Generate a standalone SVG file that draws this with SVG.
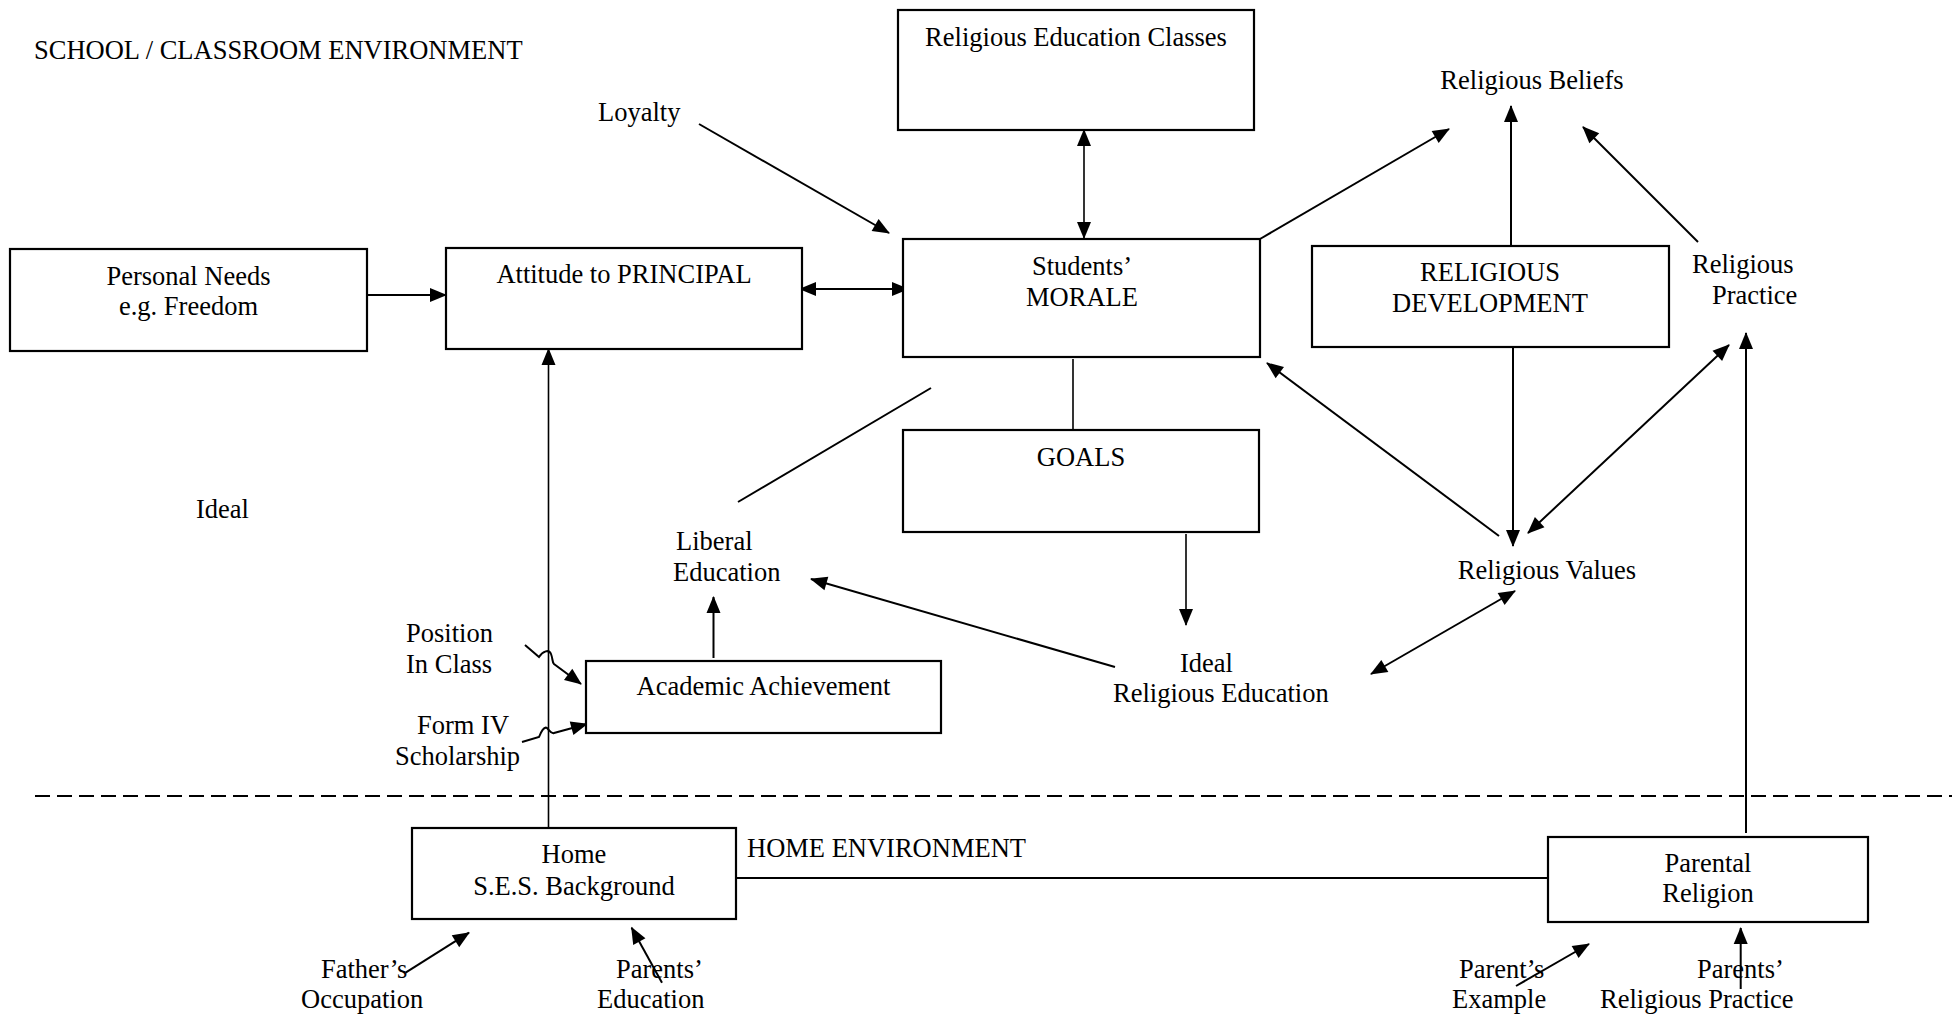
<svg xmlns="http://www.w3.org/2000/svg" width="1952" height="1017" viewBox="0 0 1952 1017">
  <style>
    text { font-family: "Liberation Serif", "Times New Roman", serif; font-size: 26.5px; fill: #000; }
    .mid { text-anchor: middle; }
    .box { fill: #fff; stroke: #000; stroke-width: 2.2; }
    .ln { fill: none; stroke: #000; stroke-width: 2; }
    .thin { fill: none; stroke: #000; stroke-width: 1.6; }
    .dash { fill: none; stroke: #000; stroke-width: 2; stroke-dasharray: 15 7; }
  </style>
  <defs>
    <marker id="arrow" markerUnits="userSpaceOnUse" markerWidth="18" markerHeight="16" viewBox="0 -8 17 16" refX="16" refY="0" orient="auto-start-reverse">
      <path d="M0,-7 L17,0 L0,7 z" fill="#000"/>
    </marker>
  </defs>

  <rect width="1952" height="1017" fill="#fff"/>

  <!-- free labels -->
  <g id="labels">
    <text x="34" y="59">SCHOOL / CLASSROOM ENVIRONMENT</text>
    <text x="598" y="121">Loyalty</text>
    <text class="mid" x="1532" y="89">Religious Beliefs</text>
    <text x="1692" y="273">Religious</text>
    <text x="1712" y="304">Practice</text>
    <text x="196" y="518">Ideal</text>
    <text x="676" y="550">Liberal</text>
    <text x="673" y="581">Education</text>
    <text class="mid" x="1547" y="579">Religious Values</text>
    <text x="1180" y="672">Ideal</text>
    <text x="1113" y="702">Religious Education</text>
    <text x="406" y="642">Position</text>
    <text x="406" y="673">In Class</text>
    <text x="417" y="734">Form IV</text>
    <text x="395" y="765">Scholarship</text>
    <text x="747" y="857">HOME ENVIRONMENT</text>
    <text x="321" y="978">Father’s</text>
    <text x="301" y="1008">Occupation</text>
    <text x="616" y="978">Parents’</text>
    <text x="597" y="1008">Education</text>
    <text x="1459" y="978">Parent’s</text>
    <text x="1452" y="1008">Example</text>
    <text x="1697" y="978">Parents’</text>
    <text x="1600" y="1008">Religious Practice</text>
  </g>

  <!-- connectors -->
  <g id="connectors">
    <line class="dash" x1="35" y1="796" x2="1952" y2="796"/>
    <line class="ln" x1="367" y1="295" x2="446" y2="295" marker-end="url(#arrow)"/>
    <line class="ln" x1="800" y1="289" x2="908" y2="289" marker-start="url(#arrow)" marker-end="url(#arrow)"/>
    <line class="ln" x1="699" y1="124" x2="889" y2="233" marker-end="url(#arrow)"/>
    <line class="thin" x1="1084" y1="130" x2="1084" y2="238" marker-start="url(#arrow)" marker-end="url(#arrow)"/>
    <line class="ln" x1="1260" y1="239" x2="1449" y2="129" marker-end="url(#arrow)"/>
    <line class="ln" x1="1511" y1="245" x2="1511" y2="106" marker-end="url(#arrow)"/>
    <line class="ln" x1="1698" y1="242" x2="1583" y2="127" marker-end="url(#arrow)"/>
    <line class="thin" x1="1073" y1="359" x2="1073" y2="430"/>
    <line class="ln" x1="931" y1="388" x2="738" y2="502"/>
    <line class="thin" x1="1186" y1="534" x2="1186" y2="625" marker-end="url(#arrow)"/>
    <line class="ln" x1="1115" y1="667" x2="811" y2="579" marker-end="url(#arrow)"/>
    <line class="ln" x1="713.5" y1="658" x2="713.5" y2="597" marker-end="url(#arrow)"/>
    <line class="ln" x1="1499" y1="536" x2="1267" y2="363" marker-end="url(#arrow)"/>
    <line class="ln" x1="1513" y1="343" x2="1513" y2="546" marker-end="url(#arrow)"/>
    <line class="ln" x1="1528" y1="533" x2="1729" y2="345" marker-start="url(#arrow)" marker-end="url(#arrow)"/>
    <line class="ln" x1="1515" y1="591" x2="1371" y2="674" marker-start="url(#arrow)" marker-end="url(#arrow)"/>
    <line class="ln" x1="1746" y1="833" x2="1746" y2="333" marker-end="url(#arrow)"/>
    <line class="thin" x1="548.5" y1="828" x2="548.5" y2="349" marker-end="url(#arrow)"/>
    <line class="ln" x1="736" y1="878" x2="1548" y2="878"/>
    <path class="ln" d="M525,645 L539,657 C543,651 549,649 551,654 C553,659 552,662 554,664 L581,684" marker-end="url(#arrow)"/>
    <path class="ln" d="M522,742 L539,737 C541,732 544,726 547,728 C550,731 551,734 554,733 L587,724" marker-end="url(#arrow)"/>
    <line class="ln" x1="405.6" y1="972.7" x2="469" y2="932.7" marker-end="url(#arrow)"/>
    <line class="ln" x1="662" y1="982.7" x2="631.6" y2="927.7" marker-end="url(#arrow)"/>
    <line class="ln" x1="1516" y1="986" x2="1589" y2="944" marker-end="url(#arrow)"/>
    <line class="ln" x1="1740.7" y1="989" x2="1740.7" y2="928" marker-end="url(#arrow)"/>
  </g>

  <!-- nodes -->
  <g id="re-classes">
    <rect class="box" x="898" y="10" width="356" height="120"/>
    <text class="mid" x="1076" y="46">Religious Education Classes</text>
  </g>
  <g id="personal-needs">
    <rect class="box" x="10" y="249" width="357" height="102"/>
    <text class="mid" x="188.5" y="285">Personal Needs</text>
    <text class="mid" x="188.5" y="315">e.g. Freedom</text>
  </g>
  <g id="attitude-principal">
    <rect class="box" x="446" y="248" width="356" height="101"/>
    <text class="mid" x="624" y="283">Attitude to PRINCIPAL</text>
  </g>
  <g id="students-morale">
    <rect class="box" x="903" y="239" width="357" height="118"/>
    <text class="mid" x="1082" y="275">Students’</text>
    <text class="mid" x="1082" y="306">MORALE</text>
  </g>
  <g id="religious-development">
    <rect class="box" x="1312" y="246" width="357" height="101"/>
    <text class="mid" x="1490" y="281">RELIGIOUS</text>
    <text class="mid" x="1490" y="312">DEVELOPMENT</text>
  </g>
  <g id="goals">
    <rect class="box" x="903" y="430" width="356" height="102"/>
    <text class="mid" x="1081" y="466">GOALS</text>
  </g>
  <g id="academic-achievement">
    <rect class="box" x="586" y="661" width="355" height="72"/>
    <text class="mid" x="763.5" y="695">Academic Achievement</text>
  </g>
  <g id="home-ses">
    <rect class="box" x="412" y="828" width="324" height="91"/>
    <text class="mid" x="574" y="863">Home</text>
    <text class="mid" x="574" y="895">S.E.S. Background</text>
  </g>
  <g id="parental-religion">
    <rect class="box" x="1548" y="837" width="320" height="85"/>
    <text class="mid" x="1708" y="872">Parental</text>
    <text class="mid" x="1708" y="902">Religion</text>
  </g>
</svg>
